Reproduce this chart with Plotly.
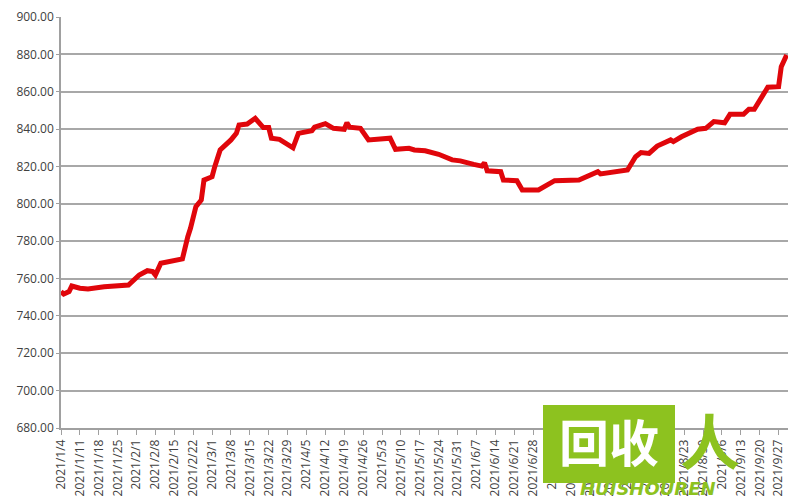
import plotly.graph_objects as go

dates = [
    "2021-01-04", "2021-01-05", "2021-01-07", "2021-01-08", "2021-01-11", "2021-01-14",
    "2021-01-20", "2021-01-25", "2021-01-29", "2021-02-02", "2021-02-05", "2021-02-07",
    "2021-02-08", "2021-02-10", "2021-02-18", "2021-02-20", "2021-02-21", "2021-02-23",
    "2021-02-25", "2021-02-26", "2021-03-01", "2021-03-02", "2021-03-04", "2021-03-08",
    "2021-03-10", "2021-03-11", "2021-03-14", "2021-03-17", "2021-03-18", "2021-03-20",
    "2021-03-22", "2021-03-23", "2021-03-26", "2021-03-31", "2021-04-02", "2021-04-07",
    "2021-04-08", "2021-04-12", "2021-04-15", "2021-04-19", "2021-04-20", "2021-04-21",
    "2021-04-25", "2021-04-26", "2021-04-28", "2021-05-06", "2021-05-08", "2021-05-13",
    "2021-05-15", "2021-05-19", "2021-05-24", "2021-05-29", "2021-06-01", "2021-06-06",
    "2021-06-09", "2021-06-10", "2021-06-11", "2021-06-16", "2021-06-17", "2021-06-22",
    "2021-06-24", "2021-06-30", "2021-07-06", "2021-07-15", "2021-07-20", "2021-07-22",
    "2021-07-23", "2021-07-28", "2021-08-02", "2021-08-05", "2021-08-07", "2021-08-10",
    "2021-08-13", "2021-08-18", "2021-08-19", "2021-08-22", "2021-08-28", "2021-08-31",
    "2021-09-03", "2021-09-07", "2021-09-09", "2021-09-14", "2021-09-16", "2021-09-18",
    "2021-09-23", "2021-09-27", "2021-09-28", "2021-09-30",
]
prices = [
    753.0, 751.7, 753.0, 756.0, 754.8, 754.4,
    755.6, 756.0, 756.5, 761.9, 764.2, 763.7,
    761.9, 768.2, 770.5, 782.4, 786.9, 798.5,
    802.0, 812.7, 814.5, 819.9, 828.8, 834.2,
    837.7, 842.2, 842.7, 845.8, 844.0, 840.8,
    840.8, 835.1, 834.5, 830.0, 837.7, 839.1,
    841.0, 842.9, 840.4, 839.9, 843.4, 841.0,
    840.4, 838.6, 834.2, 835.1, 829.2, 829.7,
    828.8, 828.4, 826.5, 823.5, 823.0, 821.1,
    820.2, 822.0, 817.7, 817.2, 812.7, 812.4,
    807.4, 807.4, 812.4, 812.7, 816.3, 817.2,
    816.0, 817.2, 818.1, 825.2, 827.4, 827.0,
    830.9, 834.2, 833.3, 835.9, 839.9, 840.4,
    844.0, 843.4, 847.9, 847.9, 850.6, 850.6,
    862.4, 862.7, 873.4, 879.7,
]

y_min, y_max, y_step = 680, 900, 20
x_start, x_end = "2021-01-04", "2021-09-30 12:00"

# page has an 8px body margin, so the figure is sized to sit inside the window
W, H = 792, 492
L, R, T, B = 53, 12, 9, 72
PW, PH = W - L - R, H - T - B
OFF = 8


def px(sx):
    return (sx - OFF - L) / PW


def py(sy):
    return (H - B - (sy - OFF)) / PH


fig = go.Figure()
fig.add_trace(go.Scatter(
    x=dates, y=prices, mode="lines",
    line=dict(color="#e0060b", width=5, shape="linear"),
    showlegend=False, hoverinfo="x+y", cliponaxis=False,
))

fig.update_layout(
    width=W, height=H,
    margin=dict(l=L, r=R, t=T, b=B, autoexpand=False),
    paper_bgcolor="white", plot_bgcolor="white",
    font=dict(family="Open Sans, DejaVu Sans, sans-serif", color="#404040"),
)
fig.update_xaxes(
    type="date", range=[x_start, x_end], automargin=False,
    tick0="2021-01-04", dtick=7 * 86400000, tickformat="%Y/%-m/%-d",
    tickangle=-90, tickfont=dict(size=12, color="#404040"),
    showgrid=False, showline=True, linecolor="#a0a0a0", linewidth=1.5,
    ticks="outside", ticklen=5, tickcolor="#a0a0a0", zeroline=False,
)
fig.update_yaxes(
    range=[y_min, y_max], dtick=y_step, tick0=y_min, tickformat=".2f",
    automargin=False, tickfont=dict(size=12, color="#404040"),
    showgrid=True, gridcolor="#a8a8a8", gridwidth=1.5,
    showline=True, linecolor="#a0a0a0", linewidth=1.5,
    ticks="outside", ticklen=3, tickcolor="#a0a0a0", zeroline=False,
)

# watermark (logo approximation)
fig.add_shape(type="rect", xref="paper", yref="paper",
              x0=px(543), x1=px(675), y0=py(483), y1=py(405),
              fillcolor="#8dc21f", line=dict(width=0), layer="above")
fig.add_annotation(xref="paper", yref="paper", x=px(609), y=py(440),
                   xanchor="center", yanchor="middle",
                   text="<b>回收</b>", showarrow=False,
                   font=dict(family="Noto Sans CJK SC", size=50, color="white"))
fig.add_annotation(xref="paper", yref="paper", x=px(710), y=py(438),
                   xanchor="center", yanchor="middle",
                   text="<b>人</b>", showarrow=False,
                   font=dict(family="Noto Sans CJK SC", size=60, color="#8dc21f"))
fig.add_annotation(xref="paper", yref="paper", x=px(648), y=py(489),
                   xanchor="center", yanchor="middle",
                   text="<b><i>HUISHOUREN</i></b>", showarrow=False,
                   font=dict(family="DejaVu Sans", size=18, color="#8dc21f"))

fig.write_html("out.html")
